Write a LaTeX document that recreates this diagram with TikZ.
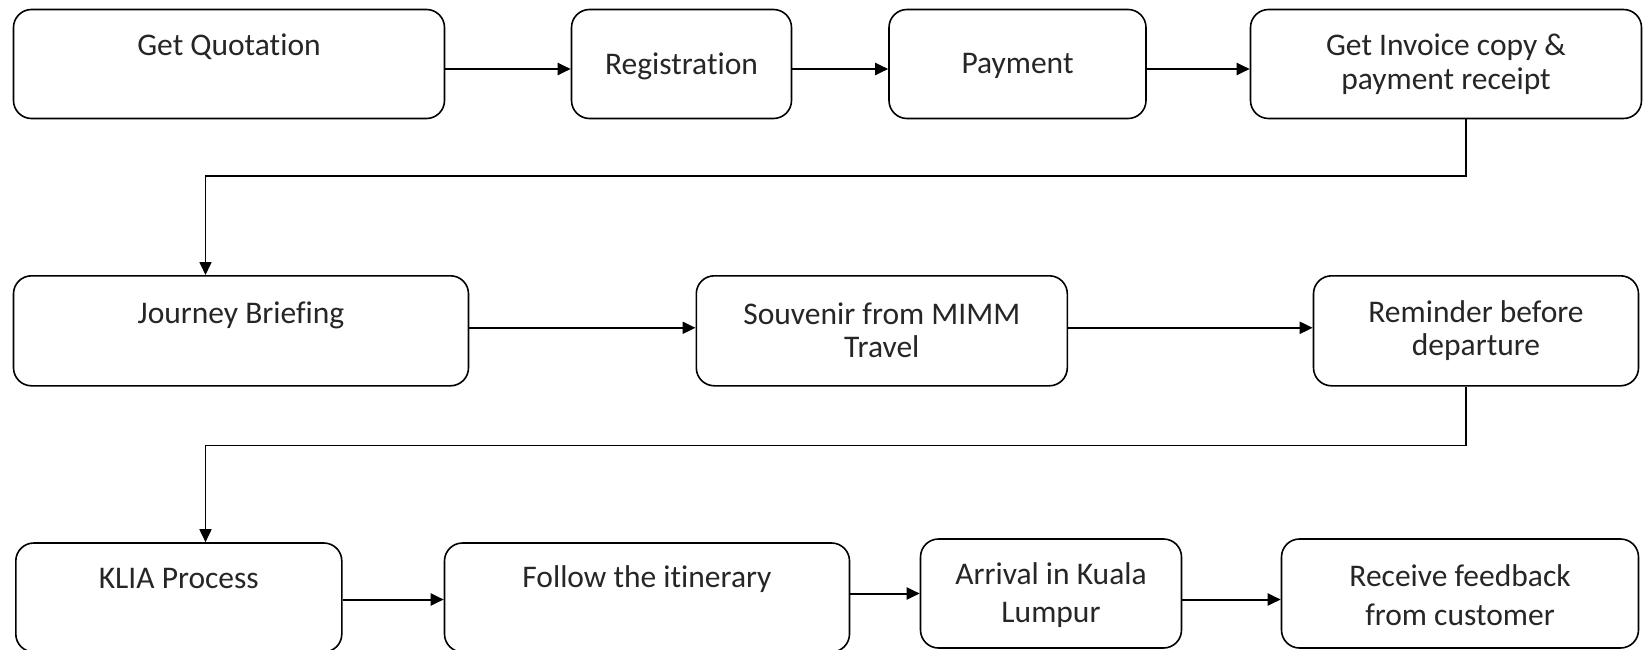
\documentclass[tikz,border=0pt]{standalone}
\usepackage{fontspec}
\setmainfont{Carlito}[Ligatures={NoCommon,NoContextual,NoRare}]
\usetikzlibrary{arrows.meta}
\begin{document}
\begin{tikzpicture}[x=1pt,y=-1pt,
 box/.style={draw=black, line width=1.6pt, rounded corners=18pt, inner sep=0pt, fill=white},
 txt/.style={text=black!85, font=\fontsize{31.5}{33.5}\selectfont, align=center, inner sep=0pt},
 wide/.style={font=\fontsize{31.5}{38.5}\selectfont},
 arr/.style={line width=2pt, -{Triangle[length=13pt,width=12pt]}},
 link/.style={line width=1.7pt, -{Triangle[length=13pt,width=12pt]}}]
\useasboundingbox (0,0) rectangle (1644,650);
\clip (0,0) rectangle (1644,650);
% row 1
\node[box, minimum width=431pt, minimum height=109pt] (q) at (229,64) {};
\node[txt] (qt) at (229,47) {Get Quotation};
\node[box, minimum width=220pt, minimum height=109pt] (reg) at (681.5,64) {};
\node[txt] (regt) at (681.5,66) {Registration};
\node[box, minimum width=257pt, minimum height=109pt] (pay) at (1017.5,64) {};
\node[txt] (payt) at (1017.5,66) {Payment};
\node[box, minimum width=391pt, minimum height=109pt] (inv) at (1446,64) {};
\node[txt] (invt) at (1446,64) {Get Invoice copy \&\\payment receipt};
% row 2
\node[box, minimum width=455pt, minimum height=110pt] (jb) at (241,330.8) {};
\node[txt] (jbt) at (241,315.6) {Journey Briefing};
\node[box, minimum width=371pt, minimum height=110pt] (sou) at (881.8,330.8) {};
\node[txt] (sout) at (881.8,330.5) {Souvenir from MIMM\\Travel};
\node[box, minimum width=325pt, minimum height=110pt] (rem) at (1476,330.8) {};
\node[txt] (remt) at (1476,330.5) {Reminder before\\departure};
% row 3
\node[box, minimum width=326pt, minimum height=109pt] (klia) at (178.8,597.5) {};
\node[txt] (kliat) at (178.8,578.7) {KLIA Process};
\node[box, minimum width=405pt, minimum height=109pt] (fol) at (647,597.5) {};
\node[txt] (folt) at (647,578.7) {Follow the itinerary};
\node[box, minimum width=261pt, minimum height=109pt] (arv) at (1051,593.5) {};
\node[txt, wide] (arvt) at (1051,595) {Arrival in Kuala\\Lumpur};
\node[box, minimum width=357pt, minimum height=109pt] (rcv) at (1460,593.5) {};
\node[txt, wide] (rcvt) at (1460,595) {Receive feedback\\from customer};
% row arrows
\draw[arr] ([yshift=-5pt]q.east) -- ([yshift=-5pt]reg.west);
\draw[arr] ([yshift=-5pt]reg.east) -- ([yshift=-5pt]pay.west);
\draw[arr] ([yshift=-5pt]pay.east) -- ([yshift=-5pt]inv.west);
\draw[arr] ([yshift=3pt]jb.east) -- ([yshift=3pt]sou.west);
\draw[arr] ([yshift=3pt]sou.east) -- ([yshift=3pt]rem.west);
\draw[arr] ([yshift=-2pt]klia.east) -- ([yshift=-2pt]fol.west);
\draw[arr] ([yshift=4pt]fol.east) -- (arv.west);
\draw[arr] ([yshift=-6pt]arv.east) -- ([yshift=-6pt]rcv.west);
% links between rows
\coordinate (a1) at (1466,176);
\coordinate (a2) at (205.5,176);
\draw[link] (inv.south -| a1) -- (a1) -- (a2) -- (a2 |- jb.north);
\coordinate (b1) at (1466,445.6);
\coordinate (b2) at (205.5,445.6);
\draw[link] (rem.south -| b1) -- (b1) -- (b2) -- (b2 |- klia.north);
\end{tikzpicture}
\end{document}
